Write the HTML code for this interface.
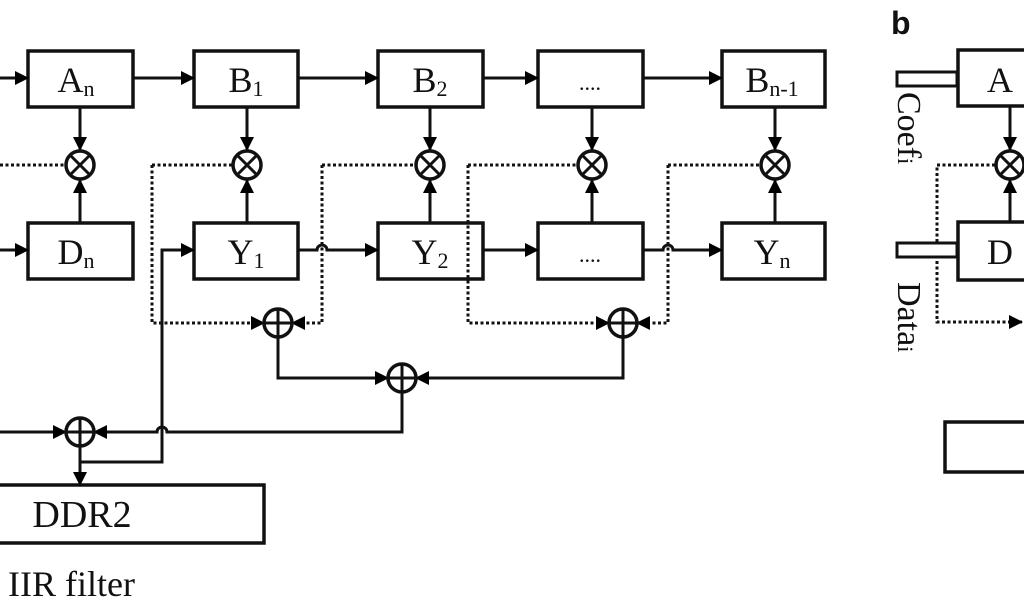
<!DOCTYPE html>
<html><head><meta charset="utf-8"><style>
html,body{margin:0;padding:0;background:#fff;}
svg{display:block;}
text{font-family:"Liberation Serif",serif;fill:#111;}
</style></head><body>
<svg width="1024" height="600" viewBox="0 0 1024 600" xmlns="http://www.w3.org/2000/svg">
<defs>
<marker id="a" markerUnits="userSpaceOnUse" markerWidth="14" markerHeight="14" refX="13" refY="7" orient="auto"><path d="M0,0 L14,7 L0,14 Z" fill="#000"/></marker>
</defs>
<g fill="none" stroke="#111" stroke-width="3.5">
<rect x="28" y="51" width="105" height="56"/>
<rect x="194" y="51" width="104" height="56"/>
<rect x="378" y="51" width="105" height="56"/>
<rect x="538" y="51" width="105" height="56"/>
<rect x="722" y="51" width="103" height="56"/>
<rect x="28" y="223" width="105" height="56"/>
<rect x="194" y="223" width="104" height="56"/>
<rect x="378" y="223" width="105" height="56"/>
<rect x="538" y="223" width="105" height="56"/>
<rect x="722" y="223" width="103" height="56"/>
<rect x="-3" y="485" width="267" height="58"/>
<rect x="958" y="50" width="80" height="56"/>
<rect x="958" y="222" width="80" height="58"/>
<rect x="945" y="422" width="90" height="50"/>
</g>
<g fill="none" stroke="#111" stroke-width="3">
<path d="M0 78H28" marker-end="url(#a)"/>
<path d="M133 78H194" marker-end="url(#a)"/>
<path d="M298 78H378" marker-end="url(#a)"/>
<path d="M483 78H538" marker-end="url(#a)"/>
<path d="M643 78H722" marker-end="url(#a)"/>
<path d="M0 250H28" marker-end="url(#a)"/>
<path d="M298 250H317 A5 5 0 0 1 327 250 H378" marker-end="url(#a)"/>
<path d="M483 250H538" marker-end="url(#a)"/>
<path d="M643 250H663 A5 5 0 0 1 673 250 H722" marker-end="url(#a)"/>
<path d="M80 462H162V250H194" marker-end="url(#a)"/>
<path d="M80 107V150" marker-end="url(#a)"/><path d="M80 223V180" marker-end="url(#a)"/>
<path d="M247 107V150" marker-end="url(#a)"/><path d="M247 223V180" marker-end="url(#a)"/>
<path d="M430 107V150" marker-end="url(#a)"/><path d="M430 223V180" marker-end="url(#a)"/>
<path d="M592 107V150" marker-end="url(#a)"/><path d="M592 223V180" marker-end="url(#a)"/>
<path d="M775 107V150" marker-end="url(#a)"/><path d="M775 223V180" marker-end="url(#a)"/>
<path d="M278 337V378H388" marker-end="url(#a)"/>
<path d="M623 337V378H416" marker-end="url(#a)"/>
<path d="M402 392V432H167 A5 5 0 0 0 157 432 H94" marker-end="url(#a)"/>
<path d="M0 432H66" marker-end="url(#a)"/>
<path d="M80 446V485" marker-end="url(#a)"/>
<path d="M1010 106V150" marker-end="url(#a)"/><path d="M1010 222V180" marker-end="url(#a)"/>
</g>
<g fill="none" stroke="#111" stroke-width="3" stroke-dasharray="3 2.5">
<path d="M0 165H65"/>
<path d="M152 165H232"/><path d="M152 165V323H264" marker-end="url(#a)"/>
<path d="M322 165H415"/><path d="M322 165V323H292" marker-end="url(#a)"/>
<path d="M468 165H577"/><path d="M468 165V323H609" marker-end="url(#a)"/>
<path d="M668 165H760"/><path d="M668 165V323H637" marker-end="url(#a)"/>
<path d="M995 165H937V322H1022" marker-end="url(#a)"/>
</g>
<g fill="#fff" stroke="#111" stroke-width="3.5">
<circle cx="80" cy="165" r="14"/><circle cx="247" cy="165" r="14"/><circle cx="430" cy="165" r="14"/><circle cx="592" cy="165" r="14"/><circle cx="775" cy="165" r="14"/><circle cx="1010" cy="165" r="14"/>
<circle cx="278" cy="323" r="14"/><circle cx="623" cy="323" r="14"/><circle cx="402" cy="378" r="14"/><circle cx="80" cy="432" r="14"/>
</g>
<g stroke="#111" stroke-width="3">
<path d="M71 156L89 174M89 156L71 174"/><path d="M238 156L256 174M256 156L238 174"/><path d="M421 156L439 174M439 156L421 174"/><path d="M583 156L601 174M601 156L583 174"/><path d="M766 156L784 174M784 156L766 174"/><path d="M1001 156L1019 174M1019 156L1001 174"/>
<path d="M278 309V337M264 323H292"/><path d="M623 309V337M609 323H637"/><path d="M402 364V392M388 378H416"/><path d="M80 418V446M66 432H94"/>
</g>
<g fill="#fff" stroke="#111" stroke-width="3">
<rect x="897" y="72" width="60" height="14"/>
<rect x="897" y="243" width="60" height="14"/>
</g>
<g font-size="36" text-anchor="middle">
<text x="76" y="92">A<tspan font-size="22" dy="4">n</tspan></text>
<text x="246" y="92">B<tspan font-size="22" dy="4">1</tspan></text>
<text x="430" y="92">B<tspan font-size="22" dy="4">2</tspan></text>
<text x="590" y="90" font-size="22">....</text>
<text x="772" y="92">B<tspan font-size="22" dy="4">n-1</tspan></text>
<text x="76" y="264">D<tspan font-size="22" dy="4">n</tspan></text>
<text x="246" y="264">Y<tspan font-size="22" dy="4">1</tspan></text>
<text x="430" y="264">Y<tspan font-size="22" dy="4">2</tspan></text>
<text x="590" y="262" font-size="22">....</text>
<text x="772" y="264">Y<tspan font-size="22" dy="4">n</tspan></text>
<text x="82" y="527" font-size="38">DDR2</text>
<text x="1000" y="92">A</text>
<text x="1000" y="264">D</text>
</g>
<text x="8" y="596" font-size="36">IIR filter</text>
<text x="891" y="34" font-size="32" font-weight="bold" style="font-family:'Liberation Sans',sans-serif">b</text>
<text font-size="34" transform="translate(898,92) rotate(90)">Coef<tspan font-size="22">i</tspan></text>
<text font-size="34" transform="translate(898,282) rotate(90)">Data<tspan font-size="22">i</tspan></text>
</svg>
</body></html>
